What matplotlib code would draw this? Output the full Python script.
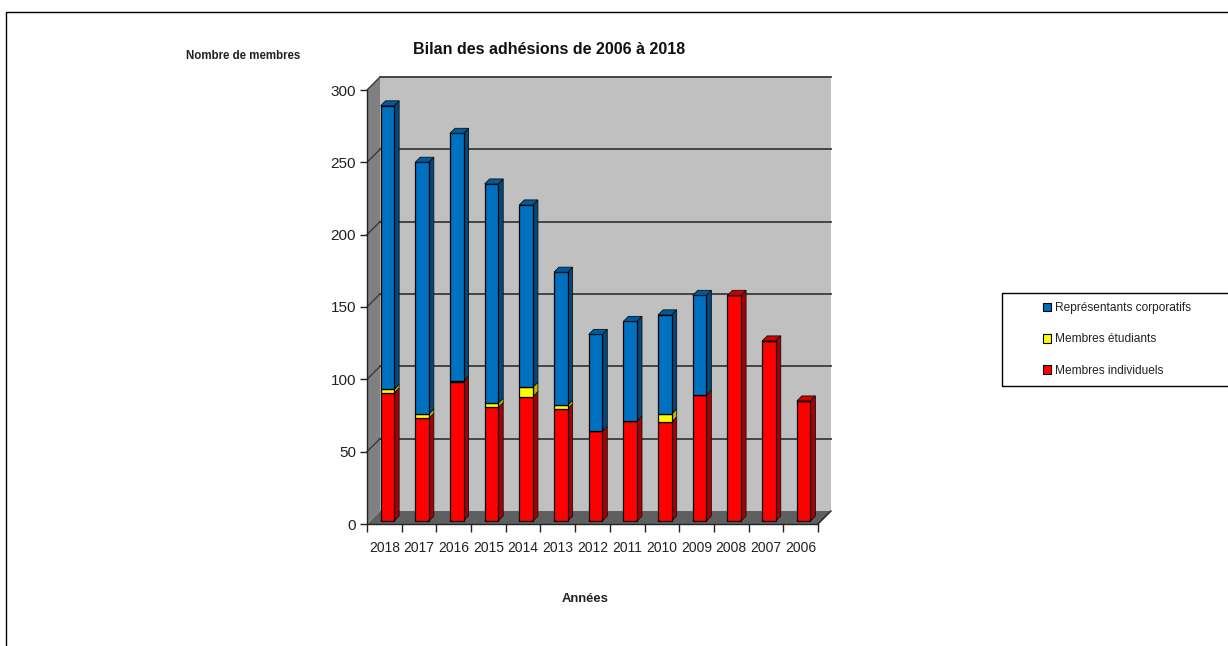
import matplotlib
matplotlib.use("Agg")
import matplotlib.pyplot as plt
from matplotlib.lines import Line2D
from matplotlib.patches import Polygon, Patch, Rectangle

years = ["2018","2017","2016","2015","2014","2013","2012","2011","2010","2009","2008","2007","2006"]
individuels = [88.5,71,96,78.5,86,77.5,62,69,68.5,87,156,124.5,83]
etudiants   = [2.5,3,1,3,6.5,2.5,0,0,5.5,0,0,0,0]
corporatifs = [196,174,171,151.5,126,92,67,69,68.5,69,0,0,0]
y_ticks = [0,50,100,150,200,250,300]
series_names = ["Membres individuels","Membres étudiants","Représentants corporatifs"]
front  = ["#FF0000","#FFFF00","#0070C0"]
side   = ["#A80000","#B8B800","#00497F"]
top    = ["#CC0000","#D8D800","#005A9E"]

W, H = 1228, 646
plt.rcParams["font.family"] = ["Liberation Sans", "DejaVu Sans"]

fig = plt.figure(figsize=(W/100, H/100), dpi=100)
L, R, T, B = 367, 818, 90, 524
ax = fig.add_axes([L/W, 1-B/H, (R-L)/W, (B-T)/H])
ax.set_xlim(0, 13)
ax.set_ylim(0, 300)
ax.patch.set_visible(False)
sx = (R-L)/13      # px per category
sy = (B-T)/300     # px per unit
D = 13             # depth of the chart box, px
dxw, dyw = D/sx, D/sy

# walls and floor
ax.add_patch(Polygon([(0,0),(dxw,dyw),(13+dxw,dyw),(13,0)], closed=True, fc="#5F5F5F", ec="none", clip_on=False, zorder=1))
ax.add_patch(Polygon([(0,0),(dxw,dyw),(dxw,300+dyw),(0,300)], closed=True, fc="#808080", ec="none", clip_on=False, zorder=1))
ax.add_patch(Rectangle((dxw,dyw),13,300, fc="#C0C0C0", ec="none", clip_on=False, zorder=1))
for v in y_ticks[1:]:
    ax.plot([dxw,13+dxw],[v+dyw,v+dyw], color="#3A3A3A", lw=1.3, clip_on=False, zorder=2)
    ax.plot([0,dxw],[v,v+dyw], color="#3A3A3A", lw=1.0, clip_on=False, zorder=2)
ax.plot([13,13+dxw],[0,dyw], color="#222222", lw=1.0, clip_on=False, zorder=2)

# bars: shifted to the middle of the box depth
ox, oy = 3/sx, 3/sy
xs = [i+0.5 for i in range(13)]
bw = 13.6/sx
d_x, d_y = 5/sx, 5/sy
bottoms = [0]*13
for vals, f, s in zip([individuels, etudiants, corporatifs], front, side):
    ax.bar([x+ox for x in xs], vals, bw, bottom=[b+oy for b in bottoms], color=f,
           edgecolor="black", linewidth=0.9, clip_on=False, zorder=4)
    for x, v, b in zip(xs, vals, bottoms):
        if v <= 0:
            continue
        x1 = x+ox+bw/2
        y0 = b+oy
        ax.add_patch(Polygon([(x1,y0),(x1+d_x,y0+d_y),(x1+d_x,y0+v+d_y),(x1,y0+v)], closed=True,
                             fc=s, ec="#111111", lw=0.6, clip_on=False, zorder=3.9))
    bottoms = [b+v for b, v in zip(bottoms, vals)]
for i, x in enumerate(xs):
    h = bottoms[i]+oy
    c = top[2] if corporatifs[i] > 0 else top[0]
    x0, x1 = x+ox-bw/2, x+ox+bw/2
    ax.add_patch(Polygon([(x0,h),(x1,h),(x1+d_x,h+d_y),(x0+d_x,h+d_y)], closed=True,
                         fc=c, ec="#111111", lw=0.6, clip_on=False, zorder=4.1))

# axes
for sp in ("top","right"):
    ax.spines[sp].set_visible(False)
for sp in ("left","bottom"):
    ax.spines[sp].set_color("#222222")
    ax.spines[sp].set_linewidth(1.0)
    ax.spines[sp].set_zorder(5)
ax.set_yticks(y_ticks)
ax.set_xticks(range(14))
ax.set_xticklabels([""]*14)
ax.set_xticks(xs, years, minor=True)
ax.tick_params(axis="y", length=5, width=1, color="#222222", labelsize=11, labelcolor="#222222", pad=3)
ax.tick_params(axis="x", which="major", length=6, width=1, color="#222222")
ax.tick_params(axis="x", which="minor", length=0, labelsize=10, labelcolor="#222222", pad=12)

# texts
fig.text(549.5/W, 1-50/H, "Bilan des adhésions de 2006 à 2018", ha="center", va="center",
         fontsize=11.5, fontweight="bold", color="#111111")
fig.text(243/W, 1-56/H, "Nombre de membres", ha="center", va="center",
         fontsize=8.3, fontweight="bold", color="#222222")
fig.text(585/W, 1-599/H, "Années", ha="center", va="center",
         fontsize=9.4, fontweight="bold", color="#222222")

# outer frame
fig.add_artist(Line2D([6/W,6/W,1],[0,1-12/H,1-12/H], color="black", lw=1.0))

# legend box
fig.add_artist(Line2D([1,1002/W,1002/W,1],[1-293/H,1-293/H,1-386/H,1-386/H], color="black", lw=1.0))
handles = [Patch(fc=front[2], ec="black", lw=0.8), Patch(fc=front[1], ec="black", lw=0.8), Patch(fc=front[0], ec="black", lw=0.8)]
labels = [series_names[2], series_names[1], series_names[0]]
leg = fig.legend(handles, labels, loc="center left", bbox_to_anchor=(1043/W, 1-339.5/H), frameon=False,
                 fontsize=8.6, handlelength=0.7, handleheight=0.7, handletextpad=0.3,
                 labelspacing=1.6, borderaxespad=0, borderpad=0)
for t in leg.get_texts():
    t.set_color("#222222")

fig.savefig("out.png", dpi=100)
